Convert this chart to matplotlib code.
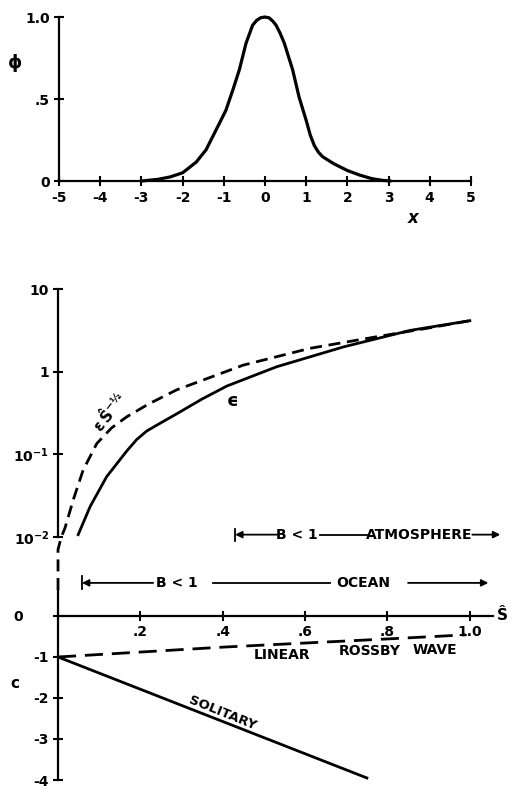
import matplotlib
matplotlib.use('Agg')
import matplotlib.pyplot as plt
from matplotlib.ticker import NullLocator
from matplotlib.transforms import ScaledTranslation

plt.rcParams['font.family'] = ['DejaVu Sans']
plt.rcParams['font.weight'] = 'bold'
plt.rcParams['axes.unicode_minus'] = False
plt.rcParams['mathtext.default'] = 'bf'

# solitary wave profile phi(x)
x_prof = [-3.0, -2.6, -2.3, -2.0, -1.67, -1.43, -1.19, -0.95, -0.78, -0.62,
          -0.46, -0.30, -0.2, -0.1, 0.0, 0.1, 0.19, 0.27, 0.37, 0.47, 0.67, 0.83, 1.0,
          1.1, 1.2, 1.3, 1.40, 1.68, 2.0, 2.3, 2.6, 2.85, 3.05]
phi_prof = [0.0, 0.01, 0.025, 0.05, 0.115, 0.19, 0.31, 0.43, 0.555, 0.68,
            0.84, 0.95, 0.98, 0.996, 1.0, 0.995, 0.975, 0.95, 0.9, 0.84, 0.68, 0.51, 0.37,
            0.28, 0.215, 0.175, 0.148, 0.104, 0.064, 0.036, 0.014, 0.004, 0.0]
x_ticks = [-5, -4, -3, -2, -1, 0, 1, 2, 3, 4, 5]
x_tick_labels = ['-5', '-4', '-3', '-2', '-1', '0', '1', '2', '3', '4', '5']
phi_ticks = [0, 0.5, 1.0]
phi_tick_labels = ['0', '.5', '1.0']

# amplitude against S-hat (log scale)
s_eps = [0.049, 0.078, 0.118, 0.167, 0.191, 0.215, 0.24, 0.288, 0.35, 0.41, 0.531,
         0.693, 0.855, 1.0]
eps = [0.0107, 0.0234, 0.0537, 0.110, 0.151, 0.191, 0.226, 0.309, 0.468, 0.671, 1.148,
       1.995, 3.16, 4.14]
s_eps_scaled = [0.0, 0.0, 0.008, 0.017, 0.037, 0.061, 0.094, 0.130, 0.167, 0.22,
                0.288, 0.45, 0.612, 0.774, 0.896, 1.0]
eps_scaled = [0.00229, 0.00708, 0.0100, 0.0129, 0.0282, 0.0646, 0.135, 0.209, 0.285,
              0.407, 0.603, 1.202, 1.919, 2.649, 3.350, 4.14]
eps_ticks = [0.01, 0.1, 1, 10]
eps_tick_labels = [r'$10^{-2}$', r'$10^{-1}$', '1', '10']

# phase speed against S-hat
s_linear = [0.0, 0.2, 0.4, 0.6, 0.8, 0.99]
c_linear = [-1.0, -0.88, -0.76, -0.66, -0.56, -0.46]
s_solitary = [0.0, 0.75]
c_solitary = [-1.0, -3.95]
s_ticks = [0.2, 0.4, 0.6, 0.8, 1.0]
s_tick_labels = ['.2', '.4', '.6', '.8', '1.0']
c_ticks = [0, -1, -2, -3, -4]
c_tick_labels = ['0', '-1', '-2', '-3', '-4']

# B < 1 ranges in S-hat
atmos_range = (0.43, 1.074)
ocean_range = (0.058, 1.045)

LW = 2.0
fig = plt.figure(figsize=(5.13, 7.88), dpi=100)


def style_ticks(ax):
    ax.tick_params(direction='inout', length=7, width=1.5, labelsize=10, pad=3)


# --- top: phi(x)
ax1 = fig.add_axes([0.115, 0.7703, 0.803, 0.2081])
ax1.plot(x_prof, phi_prof, color='black', lw=2.3, clip_on=False, solid_capstyle='round',
         solid_joinstyle='round')
ax1.set_xlim(-5, 5)
ax1.set_ylim(0, 1)
for s in ['top', 'right']:
    ax1.spines[s].set_visible(False)
for s in ['left', 'bottom']:
    ax1.spines[s].set_linewidth(1.6)
ax1.set_xticks(x_ticks)
ax1.set_xticklabels(x_tick_labels)
ax1.set_yticks(phi_ticks)
ax1.set_yticklabels(phi_tick_labels)
style_ticks(ax1)
ax1.tick_params(axis='x', pad=4)
fig.text(413 / 513, 1 - 218 / 788, 'x', fontsize=12, ha='center', va='center', style='italic')
fig.text(15 / 513, 1 - 63 / 788, 'ϕ', fontsize=13, ha='center', va='center')

# --- middle: epsilon(S)
ax2 = fig.add_axes([0.1131, 0.2513, 0.883, 0.3819])
ax2.set_yscale('log')
ax2.plot(s_eps, eps, color='black', lw=LW, clip_on=False, solid_joinstyle='round')
ax2.plot(s_eps_scaled, eps_scaled, color='black', lw=LW, dashes=(4.3, 2.4), clip_on=False)
ax2.set_xlim(0, 1.1)
ax2.set_ylim(10 ** -2.64, 10)
for s in ['top', 'right', 'bottom']:
    ax2.spines[s].set_visible(False)
ax2.spines['left'].set_linewidth(1.6)
ax2.spines['left'].set_bounds(0.01, 10)
ax2.set_xticks([])
ax2.set_yticks(eps_ticks)
ax2.set_yticklabels(eps_tick_labels)
ax2.yaxis.set_minor_locator(NullLocator())
style_ticks(ax2)
ax2.text(0.425, 0.44, 'ϵ', fontsize=13, ha='center', va='center')
ax2.text(0.124, 0.33, r'$\epsilon\,\hat{S}^{-½}$', fontsize=11, ha='center', va='center',
         rotation=52)

# B < 1 range arrows
arrow_kw = dict(arrowstyle='-|>', color='black', lw=1.3, mutation_scale=10,
                shrinkA=0, shrinkB=0)
y_atm = 0.0107
y_oce = 0.00279
ax2.plot([atmos_range[0]] * 2, [y_atm / 1.18, y_atm * 1.18], color='black', lw=1.3)
ax2.annotate('', xy=(atmos_range[0], y_atm), xytext=(0.532, y_atm), arrowprops=arrow_kw)
ax2.text(0.58, y_atm, 'B < 1', fontsize=10, ha='center', va='center')
ax2.plot([0.636, 0.75], [y_atm, y_atm], color='black', lw=1.3)
ax2.text(0.877, y_atm, 'ATMOSPHERE', fontsize=10, ha='center', va='center')
ax2.annotate('', xy=(atmos_range[1], y_atm), xytext=(1.006, y_atm), arrowprops=arrow_kw,
             annotation_clip=False)

ax2.plot([ocean_range[0]] * 2, [y_oce / 1.2, y_oce * 1.2], color='black', lw=1.3, clip_on=False)
ax2.annotate('', xy=(ocean_range[0], y_oce), xytext=(0.231, y_oce), arrowprops=arrow_kw)
ax2.text(0.289, y_oce, 'B < 1', fontsize=10, ha='center', va='center')
ax2.plot([0.377, 0.66], [y_oce, y_oce], color='black', lw=1.3)
ax2.text(0.742, y_oce, 'OCEAN', fontsize=10, ha='center', va='center')
ax2.annotate('', xy=(ocean_range[1], y_oce), xytext=(0.85, y_oce), arrowprops=arrow_kw,
             annotation_clip=False)

# --- bottom: c(S)
ax3 = fig.add_axes([0.1131, 0.01015, 0.883, 0.24115])
ax3.plot(s_linear, c_linear, color='black', lw=LW, dashes=(6.5, 3.2))
ax3.plot(s_solitary, c_solitary, color='black', lw=LW, clip_on=False)
ax3.set_xlim(0, 1.1)
ax3.set_ylim(-4, 0.634)
for s in ['top', 'right']:
    ax3.spines[s].set_visible(False)
ax3.spines['bottom'].set_position(('data', 0))
ax3.spines['bottom'].set_bounds(0, 1.057)
for s in ['left', 'bottom']:
    ax3.spines[s].set_linewidth(1.6)
ax3.set_xticks(s_ticks)
ax3.set_xticklabels(s_tick_labels)
ax3.set_yticks(c_ticks)
ax3.set_yticklabels(c_tick_labels)
style_ticks(ax3)
ax3.text(1.08, 0.0, 'Ŝ', fontsize=11, ha='center', va='center', clip_on=False)
fig.text(15 / 513, 1 - 683 / 788, 'c', fontsize=11, ha='center', va='center')
ax3.text(0.545, -0.95, 'LINEAR', fontsize=10, ha='center', va='center')
ax3.text(0.757, -0.85, 'ROSSBY', fontsize=10, ha='center', va='center')
ax3.text(0.916, -0.83, 'WAVE', fontsize=10, ha='center', va='center')
ax3.text(0.40, -2.38, 'SOLITARY', fontsize=9.5, ha='center', va='center', rotation=-22)

# the zero label of c sits further out
zero_label = ax3.yaxis.get_major_ticks()[0].label1
zero_label.set_transform(zero_label.get_transform()
                         + ScaledTranslation(-0.26, 0, fig.dpi_scale_trans))

fig.savefig('out.png', dpi=100)
